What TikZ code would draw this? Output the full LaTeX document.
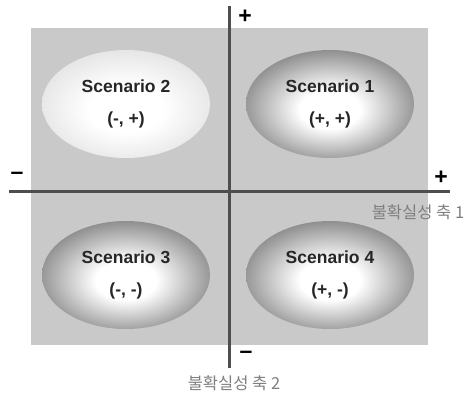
\documentclass[tikz,border=0pt]{standalone}
\usepackage{fontspec}
\setmainfont{Liberation Sans}
\newfontfamily\kofont{Noto Sans CJK KR}
\usetikzlibrary{shapes.geometric}
\definecolor{boxgray}{HTML}{C9C9C9}
\definecolor{axisgray}{HTML}{4E4E4E}
\definecolor{edgedark}{HTML}{585858}
\definecolor{edgelight}{HTML}{D8D8D8}
\definecolor{labelgray}{HTML}{7E7E7E}
\pgfdeclareradialshading{darkscen}{\pgfpoint{0bp}{-3bp}}{color(0bp)=(white); color(9bp)=(white); color(35bp)=(edgedark); color(50bp)=(edgedark)}
\pgfdeclareradialshading{lightscen}{\pgfpoint{0bp}{-3bp}}{color(0bp)=(white); color(11bp)=(white); color(35bp)=(edgelight); color(50bp)=(edgelight)}

\begin{document}
\begin{tikzpicture}[x=1pt, y=-1pt, font=\bfseries,
  scen/.style={ellipse, minimum width=168pt, minimum height=108pt, inner sep=0pt, align=center, font=\fontsize{17.5}{20}\selectfont\bfseries, text=black!85},
  axis/.style={draw=axisgray, line width=3pt},
  sign/.style={font=\fontsize{23}{23}\selectfont\bfseries},
  axlabel/.style={font=\kofont\fontsize{16.5}{16.5}\selectfont, text=labelgray}]
  \useasboundingbox (0,0) rectangle (468,399);
  \fill[boxgray] (31,28) rectangle (428,345);
  % the four scenarios
  \node[scen, shading=lightscen] (s2) at (126,104) {Scenario 2\\[12pt](-, +)};
  \node[scen, shading=darkscen] (s1) at (330,104) {Scenario 1\\[12pt](+, +)};
  \node[scen, shading=darkscen] (s3) at (126,275) {Scenario 3\\[12pt](-, -)};
  \node[scen, shading=darkscen] (s4) at (330,275) {Scenario 4\\[12pt](+, -)};
  % axes
  \coordinate (left) at (9,191);
  \coordinate (right) at (450,191);
  \coordinate (top) at (229,6);
  \coordinate (bottom) at (229,368);
  \draw[axis] (left) -- (right);
  \draw[axis] (top) -- (bottom);
  \node[sign] (ptop) at (245,17) {+};
  \node[sign] (mleft) at (17,176) {--};
  \node[sign] (pright) at (441,178) {+};
  \node[sign] (mbottom) at (246,355) {--};
  \node[axlabel] (ax1) at (418,212) {불확실성 축 1};
  \node[axlabel] (ax2) at (234,383) {불확실성 축 2};
\end{tikzpicture}
\end{document}
